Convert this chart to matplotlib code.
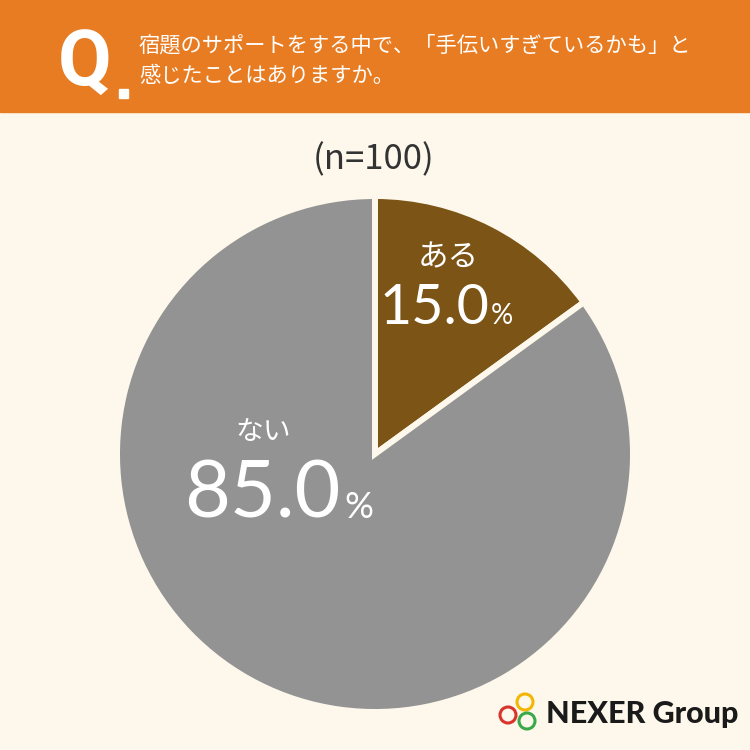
import matplotlib.pyplot as plt
from matplotlib.patches import Rectangle, Circle

plt.rcParams['font.family'] = ['Noto Sans CJK JP', 'DejaVu Sans']

# data
labels = ["ある", "ない"]
values = [15.0, 85.0]
colors = ["#7C5416", "#939393"]
question = ["宿題のサポートをする中で、「手伝いすぎているかも」と",
            "感じたことはありますか。"]
n_label = "(n=100)"

bg = "#FDF8EB"
orange = "#E87C22"

fig = plt.figure(figsize=(7.5, 7.5), dpi=100, facecolor=bg)
ax = fig.add_axes([0, 0, 1, 1])
ax.set_facecolor(bg)


def Y(py):
    # pixel row (top-down) -> data y (bottom-up)
    return 750 - py


# header band
ax.add_patch(Rectangle((0, Y(112)), 750, 112, color=orange, zorder=1))
ax.text(58, Y(86), "Q", color="white", fontsize=56, fontweight="bold",
        family="Roboto", va="baseline", ha="left")
ax.add_patch(Rectangle((119, Y(98)), 9, 9, color="white", zorder=2))
ax.text(139, Y(45), question[0], color="white", fontsize=15.3,
        va="center", ha="left")
ax.text(139, Y(76), question[1], color="white", fontsize=15.3,
        va="center", ha="left")

ax.text(374, Y(160), n_label, color="#333333", fontsize=25,
        va="center", ha="center")

# pie
ax.pie(values, colors=colors, startangle=90, counterclock=False,
       center=(375, Y(454)), radius=258,
       wedgeprops=dict(edgecolor=bg, linewidth=4.3))

# labels
ax.text(448, Y(258), labels[0], color="white", fontsize=22,
        va="center", ha="center")
ax.text(489, Y(324), f"{values[0]:.1f}", color="white", fontsize=40,
        family="Lato", va="baseline", ha="right")
ax.text(491, Y(324), "%", color="white", fontsize=20,
        family="Lato", va="baseline", ha="left")

ax.text(263, Y(432), labels[1], color="white", fontsize=20,
        va="center", ha="center")
ax.text(341, Y(518), f"{values[1]:.1f}", color="white", fontsize=57,
        family="Lato", va="baseline", ha="right")
ax.text(344, Y(518), "%", color="white", fontsize=26,
        family="Lato", va="baseline", ha="left")

# logo
for (cx, cy), c in zip([(525, 702), (508, 715), (527, 721)],
                       ["#F2B705", "#D9342B", "#3BA94A"]):
    ax.add_patch(Circle((cx, Y(cy)), 8, fill=False, edgecolor=c,
                        linewidth=2.2, zorder=5))
ax.text(546, Y(714), "NEXER Group", color="#1a1a1a", fontsize=22,
        fontweight="black", family="Lato", va="center", ha="left")

ax.set_xlim(0, 750)
ax.set_ylim(0, 750)
ax.set_aspect("auto")
ax.axis("off")

fig.savefig("out.png", dpi=100, facecolor=bg)
